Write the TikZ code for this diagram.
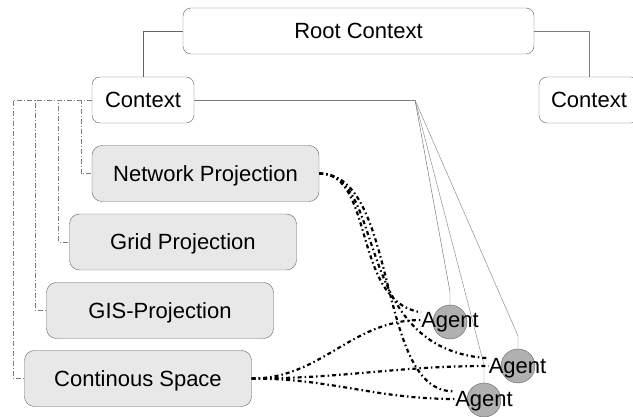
\documentclass[tikz,border=0pt]{standalone}
\usepackage{fontspec}
\setmainfont{Liberation Sans}
\usetikzlibrary{positioning,calc}
\definecolor{boxgray}{RGB}{100,100,100}
\definecolor{linkgray}{RGB}{125,125,125}
\definecolor{projfill}{RGB}{232,232,232}
\definecolor{agentfill}{RGB}{176,176,176}

\tikzset{
  lbl/.style={font=\fontsize{22}{26}\selectfont, text depth=0pt},
  ctxbox/.style={lbl, draw=boxgray, fill=white, rounded corners=8pt, minimum height=46pt},
  projbox/.style={lbl, draw=boxgray, fill=projfill, rounded corners=10pt,
    minimum width=227pt, minimum height=56pt},
  agentnode/.style={circle, draw=boxgray, fill=agentfill, minimum size=34pt, inner sep=0pt},
  agentlabel/.style={lbl, inner sep=0pt},
  member/.style={draw=linkgray, line width=0.6pt, dash pattern=on 5pt off 2pt on 1pt off 2pt},
  inproj/.style={line width=2.2pt, dash pattern=on 4pt off 3pt on 1.5pt off 3pt}
}

\begin{document}
\begin{tikzpicture}[x=1pt, y=-1pt]
\useasboundingbox (0,0) rectangle (633,417);
\clip (0,0) rectangle (633,417);
% contexts
\node[ctxbox, minimum width=351pt] (root) at (358.5,31) {Root Context};
\node[ctxbox, minimum width=102pt] (ctx) at (143,100) {Context};
\node[ctxbox, minimum width=100pt] (ctx2) at (589,100) {Context};
% projections
\node[projbox] (net) at (205.5,173.5) {Network Projection};
\node[projbox] (grid) at (183,242) {Grid Projection};
\node[projbox] (gis) at (160,310.5) {GIS-Projection};
\node[projbox] (cont) at (138,378.5) {Continous Space};
% agents
\node[agentnode] (a1) at (450,322) {};
\node[agentlabel] (a1t) at (450,320) {Agent};
\node[agentnode] (a2) at (518,366) {};
\node[agentlabel] (a2t) at (517.5,366) {Agent};
\node[agentnode] (a3) at (484,400) {};
\node[agentlabel] (a3t) at (484,399) {Agent};
% context tree
\draw[boxgray] (root.west) -| (ctx.north);
\draw[linkgray] (root.east) -| (ctx2.north);
\foreach \p in {net,grid,gis,cont}
  \draw[member] (ctx.west) -| ([xshift=-11pt]\p.west) -- (\p.west);
% agents in the context
\coordinate (fan) at (415,100);
\draw[linkgray] (ctx.east) -- (fan);
\draw[boxgray] (fan) -- ([yshift=13pt]a1.north) -- (a1.north);
\draw[linkgray] (fan) -- ([yshift=13pt]a2.north) -- (a2.north);
\draw[linkgray] (fan) -- ([yshift=18pt]a3.north) -- (a3.north);
% agents in the projections
\draw[inproj] (net.east) .. controls (375,173) and (352,302) .. (a1t.north west);
\draw[inproj] (net.east) .. controls (388,173) and (350,350) .. (a2t.north west);
\draw[inproj] (net.east) .. controls (400,173) and (375,395) .. (a3t.north west);
\draw[inproj] (cont.east) to[out=0, in=180] (a1t.west);
\draw[inproj] (cont.east) to[out=0, in=180] (a2t.west);
\draw[inproj] (cont.east) to[out=0, in=180] (a3t.west);
\end{tikzpicture}
\end{document}
